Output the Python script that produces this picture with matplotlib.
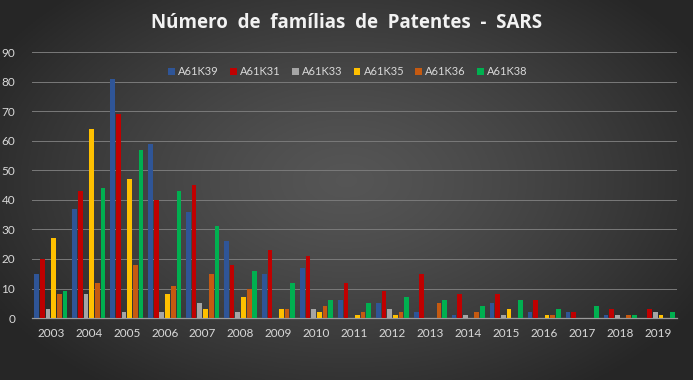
import numpy as np
import matplotlib
matplotlib.use("Agg")
import matplotlib.pyplot as plt

plt.rcParams['font.family'] = ['Lato', 'DejaVu Sans']

# data
years = [str(y) for y in range(2003, 2020)]
series_names = ['A61K39', 'A61K31', 'A61K33', 'A61K35', 'A61K36', 'A61K38']
a61k39 = [15, 37, 81, 59, 36, 26, 15, 17, 6, 5, 2, 1, 5, 2, 2, 1, 0]
a61k31 = [20, 43, 69, 40, 45, 18, 23, 21, 12, 9, 15, 8, 8, 6, 2, 3, 3]
a61k33 = [3, 8, 2, 2, 5, 2, 0, 3, 0, 3, 0, 1, 1, 0, 0, 1, 2]
a61k35 = [27, 64, 47, 8, 3, 7, 3, 2, 1, 1, 0, 0, 3, 1, 0, 0, 1]
a61k36 = [8, 12, 18, 11, 15, 10, 3, 4, 2, 2, 5, 2, 0, 1, 0, 1, 0]
a61k38 = [9, 44, 57, 43, 31, 16, 12, 6, 5, 7, 6, 4, 6, 3, 4, 1, 2]
colors = ['#2F5597', '#C00000', '#A5A5A5', '#FFC000', '#C55A11', '#00B050']

all_series = [a61k39, a61k31, a61k33, a61k35, a61k36, a61k38]

fig = plt.figure(figsize=(6.93, 3.80), dpi=100)

# dark radial gradient background
bg = fig.add_axes([0, 0, 1, 1])
gx, gy = np.meshgrid(np.linspace(-1, 1, 400), np.linspace(-1, 1, 220))
r = np.sqrt((gx / 1.0) ** 2 + ((gy + 0.05) / 1.15) ** 2)
shade = np.clip(0.335 - 0.15 * r ** 1.3, 0.15, 0.34)
bg.imshow(np.dstack([shade, shade, shade]), aspect='auto', extent=[0, 1, 0, 1])
bg.set_axis_off()

ax = fig.add_axes([0.046, 0.163, 0.931, 0.700])
ax.patch.set_alpha(0)

x = np.arange(len(years))
step = 0.15
width = 0.125
for i, (name, vals, c) in enumerate(zip(series_names, all_series, colors)):
    ax.bar(x + (i - 2.5) * step, vals, width, color=c, label=name, zorder=3)

ax.set_xlim(-0.5, len(years) - 0.5)
ax.set_ylim(0, 90)
ax.set_yticks(range(0, 91, 10))
ax.set_xticks(x)
ax.set_xticklabels(years)
ax.yaxis.grid(True, color='#7a7a7a', linewidth=0.7, zorder=0)
ax.tick_params(axis='both', length=0, colors='#d9d9d9', labelsize=8.5)
ax.tick_params(axis='x', pad=7)
ax.tick_params(axis='y', pad=12)
for s in ['top', 'right', 'left']:
    ax.spines[s].set_visible(False)
ax.spines['bottom'].set_color('#9a9a9a')
ax.spines['bottom'].set_linewidth(0.9)

leg = ax.legend(loc='upper center', bbox_to_anchor=(0.49, 0.985), ncol=6, frameon=False,
                fontsize=8, handlelength=0.6, handleheight=0.6, handletextpad=0.3,
                columnspacing=1.0)
for t in leg.get_texts():
    t.set_color('#d9d9d9')

title = 'Número  de  famílias  de  Patentes  -  SARS'
fig.text(0.5, 0.94, title, ha='center', va='center',
         color='#f2f2f2', fontsize=13.5, fontweight='bold', family='Open Sans')

fig.savefig('out.png', dpi=100)
